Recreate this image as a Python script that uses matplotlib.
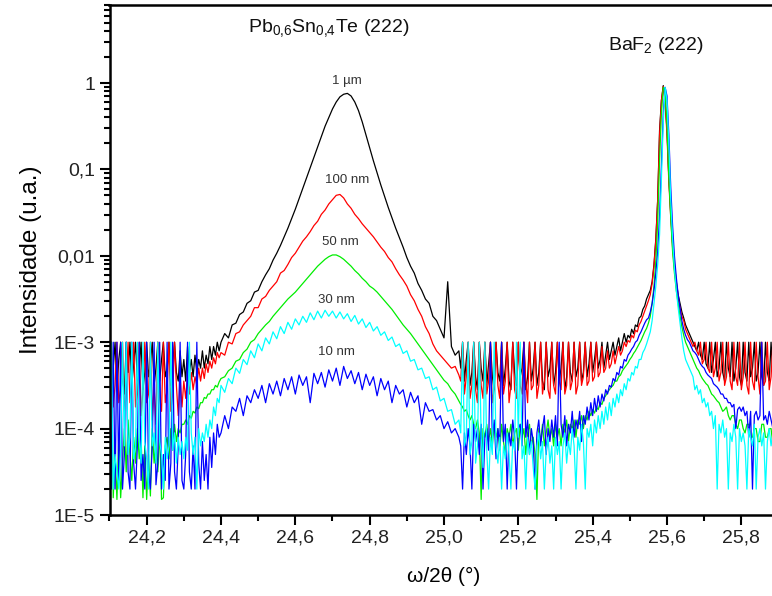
import numpy as np
import matplotlib
matplotlib.use('AGG')
import matplotlib.pyplot as plt
from matplotlib.ticker import MultipleLocator, LogLocator, NullFormatter

plt.rcParams['font.family'] = ['Liberation Sans', 'DejaVu Sans']
plt.rcParams['mathtext.fontset'] = 'custom'
plt.rcParams['mathtext.rm'] = 'Liberation Sans'
plt.rcParams['mathtext.default'] = 'regular'

# omega/2theta grid: 0.005 deg in the noisy parts, 0.01 deg over the film peak
two_theta = np.concatenate([
    np.round(np.arange(24.100, 24.3976, 0.005), 3),   # 60
    np.round(np.arange(24.40, 25.0401, 0.01), 3),     # 65
    np.round(np.arange(25.045, 25.8901, 0.005), 3),   # 170
])

# log10 of the intensity
log_1um = [
    -3.0, -3.45, -3.3, -3.0, -3.55, -3.2, -3.0, -3.4, -3.6, -3.0,
    -3.35, -3.0, -3.5, -3.25, -3.0, -3.45, -3.3, -3.0, -3.55, -3.35,
    -3.0, -3.4, -3.25, -3.0, -3.5, -3.3, -3.0, -3.45, -3.2, -3.0,
    -3.4, -3.3, -3.0, -3.5, -3.25, -3.0, -3.35, -3.45, -3.1, -3.4,
    -3.2, -3.45, -3.05, -3.35, -3.2, -3.4, -3.15, -3.35, -3.2, -3.3,
    -3.1, -3.3, -3.15, -3.25, -3.05, -3.2, -3.05, -3.15, -3.0, -3.1,
    # 24.40 - 25.04
    -3.0, -2.9, -2.95, -2.8, -2.78, -2.68, -2.65, -2.55, -2.52, -2.42,
    -2.40, -2.30, -2.22, -2.15, -2.05, -1.97, -1.88, -1.78, -1.68, -1.57,
    -1.46, -1.34, -1.22, -1.10, -0.98, -0.86, -0.74, -0.62, -0.50, -0.40,
    -0.30, -0.22, -0.16, -0.13, -0.12, -0.15, -0.22, -0.32, -0.45, -0.60,
    -0.75, -0.90, -1.04, -1.18, -1.31, -1.44, -1.56, -1.68, -1.79, -1.90,
    -2.02, -2.12, -2.20, -2.32, -2.40, -2.50, -2.55, -2.70, -2.75, -2.85,
    -2.95, -2.30, -3.05, -3.15, -3.1,
    # 25.045 - 25.545
    -3.3, -3.0, -3.45, -3.2, -3.0, -3.5, -3.35, -3.0, -3.4, -3.55,
    -3.0, -3.3, -3.45, -3.0, -3.5, -3.25, -3.0, -3.4, -3.55, -3.0,
    -3.35, -3.45, -3.0, -3.5, -3.3, -3.0, -3.45, -3.55, -3.0, -3.35,
    -3.5, -3.0, -3.4, -3.3, -3.0, -3.55, -3.4, -3.0, -3.45, -3.3,
    -3.0, -3.5, -3.35, -3.0, -3.45, -3.55, -3.0, -3.4, -3.3, -3.0,
    -3.5, -3.35, -3.0, -3.45, -3.3, -3.0, -3.55, -3.4, -3.0, -3.35,
    -3.45, -3.0, -3.4, -3.3, -3.0, -3.45, -3.35, -3.0, -3.4, -3.25,
    -3.0, -3.35, -3.2, -3.0, -3.3, -3.2, -3.0, -3.3, -3.15, -3.0,
    -3.2, -3.1, -3.0, -3.15, -3.05, -2.95, -3.1, -3.0, -2.9, -3.0,
    -2.92, -2.95, -2.85, -2.9, -2.8, -2.82, -2.72, -2.7, -2.62, -2.58,
    -2.5,
    # 25.55 - 25.645 (BaF2)
    -2.45, -2.4, -2.3, -2.1, -1.8, -1.35, -0.55, -0.2, -0.03, -0.2,
    -0.55, -1.1, -1.5, -1.85, -2.1, -2.3, -2.45, -2.55, -2.65, -2.72,
    # 25.65 - 25.89
    -2.8, -2.85, -2.9, -2.95, -3.0, -3.05, -3.1, -3.0, -3.15, -3.2,
    -3.0, -3.25, -3.3, -3.0, -3.35, -3.2, -3.0, -3.4, -3.3, -3.0,
    -3.35, -3.45, -3.0, -3.3, -3.4, -3.0, -3.45, -3.3, -3.0, -3.4,
    -3.5, -3.0, -3.35, -3.45, -3.0, -3.4, -3.3, -3.0, -3.45, -3.35,
    -3.0, -3.4, -3.5, -3.0, -3.35, -3.45, -3.0, -3.4, -3.3,
]
log_100nm = [
    -3.6, -3.0, -3.75, -3.5, -3.0, -3.7, -3.55, -3.0, -3.8, -3.6,
    -3.0, -3.7, -3.5, -3.0, -3.75, -3.6, -3.0, -3.85, -3.55, -3.0,
    -3.7, -3.6, -3.0, -3.9, -3.5, -3.95, -3.0, -3.65, -3.8, -3.0,
    -3.7, -3.55, -3.0, -3.8, -3.6, -3.0, -3.5, -3.85, -3.4, -3.75,
    -3.45, -3.65, -3.4, -3.6, -3.35, -3.55, -3.4, -3.5, -3.3, -3.45,
    -3.3, -3.42, -3.25, -3.35, -3.22, -3.3, -3.18, -3.25, -3.12, -3.18,
    # 24.40 - 25.04
    -3.12, -3.15, -3.0, -3.02, -2.9, -2.88, -2.8, -2.75, -2.7, -2.6,
    -2.6, -2.5, -2.47, -2.4, -2.35, -2.3, -2.2, -2.17, -2.1, -2.02,
    -1.97, -1.9, -1.83, -1.78, -1.72, -1.65, -1.6, -1.52, -1.47, -1.4,
    -1.35, -1.3, -1.29, -1.33, -1.4, -1.45, -1.52, -1.57, -1.63, -1.68,
    -1.73, -1.78, -1.84, -1.9, -1.95, -2.02, -2.07, -2.15, -2.22, -2.28,
    -2.35, -2.45, -2.52, -2.62, -2.7, -2.82, -2.9, -3.02, -3.1, -3.15,
    -3.2, -3.25, -3.3, -3.28, -3.38,
    # 25.045 - 25.545
    -3.45, -3.0, -3.6, -3.4, -3.0, -3.65, -3.5, -3.0, -3.55, -3.7,
    -3.0, -3.5, -3.65, -3.0, -3.6, -3.45, -3.0, -3.7, -3.55, -3.0,
    -3.5, -3.65, -3.0, -3.6, -3.45, -3.0, -3.7, -3.5, -3.0, -3.55,
    -3.65, -3.0, -3.5, -3.6, -3.0, -3.45, -3.7, -3.0, -3.55, -3.5,
    -3.0, -3.65, -3.5, -3.0, -3.6, -3.45, -3.0, -3.55, -3.65, -3.0,
    -3.5, -3.6, -3.0, -3.45, -3.55, -3.0, -3.6, -3.5, -3.0, -3.55,
    -3.45, -3.0, -3.6, -3.5, -3.0, -3.5, -3.4, -3.0, -3.5, -3.45,
    -3.0, -3.45, -3.4, -3.0, -3.4, -3.35, -3.05, -3.35, -3.3, -3.1,
    -3.3, -3.25, -3.1, -3.25, -3.15, -3.05, -3.15, -3.1, -3.0, -3.05,
    -2.98, -3.0, -2.92, -2.95, -2.86, -2.88, -2.8, -2.76, -2.7, -2.64,
    -2.58,
    # 25.55 - 25.645 (BaF2)
    -2.52, -2.45, -2.32, -2.12, -1.82, -1.35, -0.6, -0.2, -0.04, -0.22,
    -0.6, -1.15, -1.55, -1.9, -2.15, -2.35, -2.5, -2.6, -2.7, -2.75,
    # 25.65 - 25.89
    -2.85, -2.9, -2.95, -3.0, -3.05, -3.0, -3.1, -3.15, -3.0, -3.25,
    -3.2, -3.0, -3.3, -3.35, -3.0, -3.4, -3.3, -3.0, -3.45, -3.35,
    -3.0, -3.5, -3.4, -3.0, -3.45, -3.55, -3.0, -3.4, -3.5, -3.0,
    -3.55, -3.4, -3.0, -3.5, -3.6, -3.0, -3.45, -3.55, -3.0, -3.4,
    -3.6, -3.0, -3.5, -3.45, -3.0, -3.55, -3.4, -3.0, -3.5,
]
log_50nm = [
    -4.2, -3.0, -4.8, -4.3, -4.82, -4.1, -4.8, -4.4, -4.0, -4.5,
    -3.9, -4.3, -4.6, -4.1, -4.4, -4.0, -4.35, -4.1, -4.8, -4.2,
    -4.82, -4.3, -4.78, -4.0, -4.4, -4.15, -4.5, -4.0, -4.82, -4.8,
    -4.2, -4.1, -4.35, -4.0, -4.25, -3.95, -4.15, -4.0, -4.05, -3.95,
    -3.95, -3.9, -3.95, -3.85, -3.88, -3.8, -3.82, -3.75, -3.77, -3.7,
    -3.7, -3.64, -3.65, -3.6, -3.6, -3.55, -3.55, -3.5, -3.52, -3.46,
    # 24.40 - 25.04
    -3.42, -3.4, -3.33, -3.3, -3.22, -3.2, -3.12, -3.08, -3.0, -2.97,
    -2.9, -2.85, -2.8, -2.76, -2.7, -2.65, -2.6, -2.55, -2.5, -2.46,
    -2.42, -2.37, -2.32, -2.27, -2.22, -2.17, -2.12, -2.08, -2.04, -2.01,
    -1.99, -1.99, -2.01, -2.04, -2.08, -2.12, -2.17, -2.21, -2.26, -2.3,
    -2.35, -2.38, -2.42, -2.47, -2.52, -2.57, -2.62, -2.68, -2.74, -2.8,
    -2.85, -2.9, -2.96, -3.02, -3.08, -3.14, -3.2, -3.26, -3.32, -3.38,
    -3.44, -3.48, -3.55, -3.6, -3.68,
    # 25.045 - 25.545
    -3.72, -3.75, -3.8, -3.78, -3.85, -3.9, -3.85, -3.95, -4.0, -3.9,
    -4.05, -4.82, -4.0, -4.1, -3.95, -4.15, -4.0, -4.2, -3.95, -4.1,
    -4.0, -4.25, -3.95, -4.15, -4.3, -4.0, -4.1, -3.95, -4.2, -4.05,
    -4.0, -4.25, -3.95, -4.1, -4.0, -4.3, -4.05, -3.95, -4.2, -4.1,
    -4.3, -4.82, -4.0, -4.15, -3.95, -4.2, -4.05, -3.9, -4.1, -4.0,
    -4.2, -3.95, -4.1, -4.0, -4.2, -3.95, -4.05, -3.9, -4.15, -3.95,
    -4.0, -3.9, -4.1, -3.9, -3.95, -3.85, -4.0, -3.85, -3.9, -3.8,
    -3.85, -3.78, -3.82, -3.75, -3.78, -3.7, -3.72, -3.65, -3.62, -3.58,
    -3.55, -3.52, -3.5, -3.45, -3.45, -3.4, -3.38, -3.33, -3.3, -3.27,
    -3.24, -3.2, -3.17, -3.13, -3.1, -3.06, -3.02, -2.98, -2.93, -2.88,
    -2.84,
    # 25.55 - 25.645 (BaF2)
    -2.78, -2.7, -2.55, -2.35, -2.05, -1.6, -0.9, -0.35, -0.05, -0.1,
    -0.5, -1.1, -1.55, -1.95, -2.2, -2.4, -2.55, -2.7, -2.82, -2.92,
    # 25.65 - 25.89
    -3.0, -3.05, -3.1, -3.15, -3.2, -3.25, -3.3, -3.33, -3.38, -3.42,
    -3.45, -3.48, -3.5, -3.55, -3.6, -3.62, -3.65, -3.68, -3.7, -3.75,
    -3.8, -3.78, -3.75, -3.85, -3.9, -3.85, -3.85, -3.95, -4.0, -3.9,
    -3.9, -4.0, -4.05, -3.95, -3.95, -4.1, -4.1, -4.0, -4.0, -4.15,
    -4.15, -3.95, -3.95, -4.1, -4.1, -4.0, -4.0, -4.2, -4.2,
]
log_30nm = [
    -4.2, -3.0, -4.7, -4.3, -4.5, -4.7, -4.25, -3.0, -4.2, -3.0,
    -4.3, -4.1, -3.0, -4.35, -4.2, -3.0, -4.1, -4.4, -3.0, -4.15,
    -4.35, -4.7, -3.0, -4.2, -4.05, -4.4, -3.0, -4.15, -4.3, -4.7,
    -4.1, -4.35, -4.2, -3.0, -4.25, -4.05, -4.4, -4.1, -4.3, -4.15,
    -4.35, -4.1, -4.25, -3.0, -4.05, -4.3, -4.1, -4.7, -4.0, -4.2,
    -4.05, -4.15, -3.95, -4.1, -3.9, -4.0, -3.75, -3.85, -3.65, -3.7,
    # 24.40 - 25.04
    -3.5, -3.58, -3.42, -3.48, -3.3, -3.36, -3.2, -3.26, -3.1, -3.18,
    -3.02, -3.1, -2.95, -3.02, -2.88, -2.96, -2.82, -2.9, -2.77, -2.85,
    -2.73, -2.8, -2.7, -2.77, -2.66, -2.74, -2.64, -2.72, -2.63, -2.7,
    -2.64, -2.72, -2.65, -2.73, -2.67, -2.76, -2.69, -2.79, -2.73, -2.83,
    -2.77, -2.87, -2.82, -2.92, -2.88, -2.98, -2.94, -3.05, -3.02, -3.13,
    -3.1, -3.22, -3.2, -3.32, -3.3, -3.42, -3.4, -3.55, -3.52, -3.68,
    -3.65, -3.8, -3.78, -3.95, -3.9,
    # 25.045 - 25.545
    -4.05, -3.0, -4.2, -4.1, -3.0, -4.3, -4.15, -3.0, -4.4, -4.2,
    -3.0, -4.1, -4.45, -3.0, -4.25, -4.7, -4.1, -4.3, -3.0, -4.2,
    -4.4, -4.1, -4.7, -4.2, -4.35, -4.05, -4.3, -4.7, -4.15, -4.25,
    -3.0, -4.1, -3.0, -4.35, -4.2, -4.7, -4.1, -4.3, -4.15, -4.45,
    -4.7, -4.2, -4.05, -4.35, -4.15, -4.7, -4.25, -4.1, -4.4, -4.2,
    -4.7, -4.1, -4.3, -4.15, -4.7, -4.2, -4.05, -4.4, -4.15, -4.3,
    -4.0, -4.2, -4.7, -4.1, -4.25, -3.95, -4.15, -4.7, -4.0, -4.1,
    -3.95, -4.2, -3.9, -4.05, -3.85, -4.0, -3.8, -3.95, -3.75, -3.9,
    -3.7, -3.85, -3.65, -3.75, -3.6, -3.7, -3.55, -3.62, -3.48, -3.55,
    -3.42, -3.45, -3.35, -3.38, -3.28, -3.3, -3.2, -3.2, -3.12, -3.08,
    -3.02,
    # 25.55 - 25.645 (BaF2)
    -2.95, -2.88, -2.75, -2.55, -2.35, -2.1, -1.75, -1.1, -0.45, -0.05,
    -0.2, -0.7, -1.35, -1.8, -2.15, -2.4, -2.6, -2.78, -2.95, -3.1,
    # 25.65 - 25.89
    -3.2, -3.25, -3.3, -3.35, -3.4, -3.55, -3.5, -3.6, -3.55, -3.7,
    -3.65, -3.75, -3.7, -3.85, -3.8, -4.0, -3.85, -4.7, -3.95, -4.05,
    -3.9, -4.1, -4.0, -4.7, -4.05, -4.15, -3.95, -4.1, -4.7, -4.0,
    -4.15, -4.05, -4.2, -4.7, -4.0, -4.1, -4.2, -3.95, -4.7, -4.1,
    -4.0, -4.2, -4.05, -4.7, -4.15, -4.0, -4.2, -4.05, -4.15,
]
log_10nm = [
    -3.0, -4.7, -3.0, -4.7, -3.0, -4.6, -3.0, -4.7, -4.3, -3.0,
    -4.5, -4.7, -3.0, -4.4, -4.7, -4.2, -3.0, -4.6, -4.3, -4.7,
    -3.0, -4.5, -4.7, -4.2, -3.0, -4.65, -4.4, -3.0, -4.7, -4.3,
    -4.6, -3.0, -4.7, -4.4, -3.0, -4.5, -4.7, -4.2, -3.0, -4.6,
    -4.7, -4.3, -3.0, -4.5, -4.7, -4.2, -4.7, -3.0, -4.4, -4.7,
    -4.15, -4.6, -4.3, -4.7, -4.1, -4.45, -4.05, -4.3, -3.95, -4.1,
    # 24.40 - 25.04
    -4.05, -3.85, -4.0, -3.75, -3.8, -3.65, -3.85, -3.62, -3.7, -3.55,
    -3.65, -3.5, -3.7, -3.48, -3.6, -3.45, -3.62, -3.42, -3.55, -3.4,
    -3.6, -3.38, -3.5, -3.4, -3.7, -3.36, -3.48, -3.35, -3.52, -3.32,
    -3.45, -3.3, -3.5, -3.28, -3.42, -3.33, -3.48, -3.35, -3.55, -3.37,
    -3.5, -3.4, -3.62, -3.42, -3.55, -3.45, -3.7, -3.5, -3.6, -3.55,
    -3.75, -3.58, -3.7, -3.62, -3.95, -3.7, -3.8, -3.78, -3.9, -3.85,
    -4.0, -3.92, -4.05, -4.0, -4.1,
    # 25.045 - 25.545
    -4.2, -4.7, -4.05, -4.3, -4.0, -4.2, -4.7, -3.95, -4.15, -4.0,
    -4.3, -3.95, -4.7, -4.1, -4.0, -4.25, -3.0, -4.1, -3.9, -4.35,
    -4.0, -4.2, -3.0, -4.15, -3.95, -4.7, -4.05, -4.2, -3.9, -4.1,
    -4.7, -4.0, -3.95, -4.2, -3.0, -4.1, -3.9, -4.3, -4.0, -4.15,
    -4.7, -4.05, -3.9, -4.2, -4.0, -3.85, -4.3, -4.0, -4.15, -3.9,
    -4.1, -3.85, -4.2, -3.0, -3.95, -4.1, -3.85, -4.2, -3.95, -4.05,
    -3.8, -4.1, -3.9, -4.0, -3.8, -4.15, -3.85, -3.95, -3.75, -3.9,
    -3.7, -3.85, -3.65, -3.8, -3.62, -3.75, -3.6, -3.68, -3.55, -3.6,
    -3.5, -3.52, -3.42, -3.45, -3.35, -3.38, -3.28, -3.3, -3.2, -3.22,
    -3.15, -3.12, -3.08, -3.05, -3.0, -2.98, -2.92, -2.88, -2.83, -2.78,
    -2.74,
    # 25.55 - 25.645 (BaF2)
    -2.72, -2.65, -2.55, -2.4, -2.2, -1.95, -1.55, -0.95, -0.35, -0.05,
    -0.15, -0.6, -1.2, -1.65, -2.0, -2.25, -2.45, -2.6, -2.75, -2.85,
    # 25.65 - 25.89
    -2.92, -2.97, -3.0, -3.05, -3.1, -3.12, -3.15, -3.2, -3.25, -3.28,
    -3.3, -3.35, -3.38, -3.4, -3.42, -3.48, -3.5, -3.52, -3.55, -3.6,
    -3.6, -3.65, -3.65, -3.7, -3.7, -3.75, -3.72, -4.0, -3.78, -3.75,
    -3.8, -3.75, -3.85, -3.8, -4.1, -3.8, -4.7, -3.85, -3.8, -3.9,
    -3.85, -3.0, -3.9, -3.85, -3.95, -3.8, -3.9, -4.0, -3.85,
]

series = [
    (log_1um, '#000000'),
    (log_100nm, '#ff0000'),
    (log_50nm, '#00ee00'),
    (log_10nm, '#0000ff'),
    (log_30nm, '#00ffff'),
]

fig = plt.figure(figsize=(7.72, 5.96), dpi=100)
ax = fig.add_axes([109.5 / 772, 81 / 596, 669 / 772, 510 / 596])

for values, color in series:
    assert len(values) == len(two_theta)
    ax.plot(two_theta, 10 ** np.asarray(values), color=color, lw=0.9)

ax.set_yscale('log')
ax.set_xlim(24.1, 25.9)
ax.set_ylim(1e-5, 8)

xticks = np.arange(24.2, 25.85, 0.2)
ax.set_xticks(xticks)
ax.set_xticklabels([('%.1f' % t).replace('.', ',') for t in xticks])
ax.xaxis.set_minor_locator(MultipleLocator(0.1))

ax.set_yticks([1e-5, 1e-4, 1e-3, 1e-2, 1e-1, 1],
              ['1E-5', '1E-4', '1E-3', '0,01', '0,1', '1'])
ax.yaxis.set_minor_locator(LogLocator(base=10, subs=np.arange(2, 10), numticks=20))
ax.yaxis.set_minor_formatter(NullFormatter())

ax.tick_params(which='both', direction='out', top=False, right=False,
               labelsize=14, labelcolor='#222222', width=1.5)
ax.tick_params(which='major', length=7)
ax.tick_params(which='minor', length=4)
for spine in ax.spines.values():
    spine.set_linewidth(1.8)

ax.set_xlabel('ω/2θ (°)', fontsize=15, labelpad=15)
ax.set_ylabel('Intensidade (u.a.)', fontsize=17.5, labelpad=8)

ax.text(0.207, 0.955, 'Pb$_{0{,}6}$Sn$_{0{,}4}$Te (222)', transform=ax.transAxes,
        fontsize=14, color='#111111', va='center')
ax.text(0.745, 0.92, 'BaF$_2$ (222)', transform=ax.transAxes,
        fontsize=14, color='#111111', va='center')

label_pos = {
    '1 µm': (24.74, 1.05),
    '100 nm': (24.74, 0.075),
    '50 nm': (24.72, 0.0145),
    '30 nm': (24.71, 0.0031),
    '10 nm': (24.71, 0.00077),
}
for label, (x, y) in label_pos.items():
    ax.text(x, y, label, fontsize=9.5, color='#333333', ha='center', va='center')

fig.savefig('out.png', dpi=100)
